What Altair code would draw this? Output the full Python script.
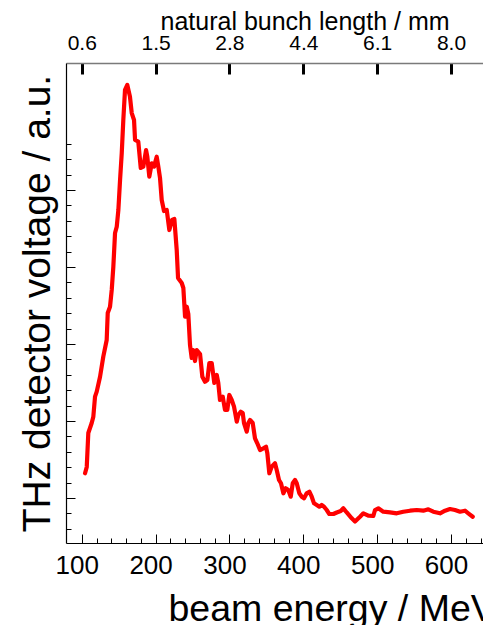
import altair as alt
import pandas as pd

# ---- data ----
energy = [104.5, 106.8, 108.9, 113.5, 115.7, 118.0, 120.3, 124.8, 129.2, 133.8,
          135.2, 138.3, 140.6, 142.8, 145.1, 147.4, 149.6, 151.9, 154.2, 156.3,
          158.6, 161.7, 165.3, 167.7, 170.8, 172.2, 176.6, 179.9, 183.4, 187.1,
          188.8, 191.5, 194.8, 197.9, 201.5, 203.7, 206.0, 208.3, 211.4, 215.1,
          218.6, 222.3, 225.4, 228.6, 230.4, 235.4, 237.6, 239.9, 242.2, 244.3,
          246.6, 248.9, 250.7, 253.4, 255.7, 260.2, 263.3, 266.9, 270.1, 272.8,
          276.0, 279.5, 282.8, 284.9, 287.2, 290.9, 294.0, 297.1, 299.8, 303.1,
          306.2, 309.9, 312.0, 315.3, 318.0, 319.7, 323.4, 325.6, 327.9, 331.5,
          334.6, 337.7, 341.4, 345.9, 349.5, 351.3, 354.0, 357.2, 361.7, 364.0,
          367.1, 369.8, 373.0, 376.2, 379.7, 383.0, 385.7, 388.8, 391.1, 394.6,
          397.9, 401.0, 404.6, 408.2, 411.4, 414.5, 418.2, 421.7, 424.9, 428.1,
          431.7, 435.2, 440.7, 445.3, 450.7, 454.2, 458.8, 465.6, 470.0, 476.8,
          481.3, 488.0, 494.8, 497.1, 501.6, 508.3, 517.4, 526.5, 535.4, 544.5,
          553.6, 562.5, 569.3, 576.0, 585.1, 591.9, 598.6, 605.4, 612.2, 618.9,
          623.4, 629.4]
voltage = [1.321, 1.403, 1.844, 1.974, 2.056, 2.316, 2.381, 2.575, 2.835, 3.052,
           3.403, 3.484, 3.701, 4.004, 4.442, 4.523, 4.740, 5.130, 5.481, 5.909,
           6.299, 6.364, 6.212, 5.999, 5.909, 5.649, 5.627, 5.286, 5.303, 5.519,
           5.432, 5.173, 5.347, 5.303, 5.432, 5.303, 5.156, 4.870, 4.727, 4.740,
           4.480, 4.610, 4.623, 4.221, 3.857, 3.792, 3.727, 3.354, 3.484, 3.390,
           2.987, 2.818, 2.922, 2.779, 2.922, 2.870, 2.575, 2.510, 2.532, 2.753,
           2.753, 2.494, 2.597, 2.494, 2.273, 2.316, 2.143, 2.143, 2.338, 2.273,
           2.186, 1.991, 2.078, 2.121, 2.104, 1.974, 1.861, 1.974, 2.013, 1.974,
           1.775, 1.710, 1.623, 1.645, 1.666, 1.581, 1.321, 1.406, 1.451, 1.364,
           1.234, 1.191, 1.061, 1.126, 1.104, 1.017, 1.191, 1.234, 1.191, 1.061,
           1.017, 0.996, 1.061, 1.082, 1.017, 0.931, 0.909, 0.887, 0.909, 0.887,
           0.844, 0.792, 0.792, 0.812, 0.831, 0.866, 0.812, 0.736, 0.695, 0.757,
           0.801, 0.770, 0.766, 0.844, 0.866, 0.822, 0.814, 0.801, 0.822, 0.835,
           0.844, 0.835, 0.853, 0.822, 0.801, 0.835, 0.857, 0.844, 0.822, 0.835,
           0.801, 0.757]

x_domain = [78.7, 643.3]
y_domain = [0.4156, 6.649]

bottom_major = [100, 200, 300, 400, 500, 600]
bottom_minor = [120, 140, 160, 180, 220, 240, 260, 280, 320, 340, 360, 380,
                420, 440, 460, 480, 520, 540, 560, 580, 620, 640]
left_major = [1, 2, 3, 4, 5]
left_minor = [0.6, 0.8, 1.2, 1.4, 1.6, 1.8, 2.2, 2.4, 2.6, 2.8, 3.2, 3.4, 3.6,
              3.8, 4.2, 4.4, 4.6, 4.8, 5.2, 5.4, 5.6]
top_tick_energy = [100, 200, 300, 400, 500, 600]
top_tick_labels = ["0.6", "1.5", "2.8", "4.4", "6.1", "8.0"]

x_title = "beam energy / MeV"
y_title = "THz detector voltage / a.u."
top_title = "natural bunch length / mm"

df = pd.DataFrame({"energy": energy, "voltage": voltage})

FONT = "Liberation Sans"
xs = alt.Scale(domain=x_domain, nice=False, zero=False)
ys = alt.Scale(domain=y_domain, nice=False, zero=False)

top_expr = " : ".join(
    f"datum.value == {e} ? '{l}'" for e, l in zip(top_tick_energy, top_tick_labels)
) + " : ''"

base = alt.Chart(df)


def layer(xaxis, yaxis, visible=False):
    m = base.mark_line(color="#ff0000", strokeWidth=4.2, strokeJoin="round",
                       strokeCap="round", clip=True, opacity=1 if visible else 0)
    return m.encode(
        x=alt.X("energy:Q", scale=xs, axis=xaxis),
        y=alt.Y("voltage:Q", scale=ys, axis=yaxis),
    )


common = dict(grid=False, tickColor="black", domain=False)

# L1: visible curve, major bottom ticks with labels, major left ticks
l1 = layer(
    alt.Axis(orient="bottom", values=bottom_major, offset=-9, tickSize=9,
             tickWidth=1, labelFontSize=26, labelPadding=30,
             labelBaseline="alphabetic", labelOffset=-5, labelFlush=False,
             labelOverlap=False, format="d", title=None, **common),
    alt.Axis(orient="left", values=left_major, offset=-9, tickSize=9,
             tickWidth=1, labels=False, title=None, **common),
    visible=True,
)
# L2: minor ticks
l2 = layer(
    alt.Axis(orient="bottom", values=bottom_minor, offset=-5, tickSize=5,
             tickWidth=1, labels=False, title=None, **common),
    alt.Axis(orient="left", values=left_minor, offset=-5, tickSize=5,
             tickWidth=1, labels=False, title=None, **common),
)
# L3: frame lines bottom/left with titles
l3 = layer(
    alt.Axis(orient="bottom", grid=False, domain=True, domainColor="black",
             domainWidth=1.2, ticks=False, labels=False, title=x_title,
             titleFontSize=37.5, titleX=102, titleY=77, titleAlign="left",
             titleAnchor="start", titleBaseline="alphabetic"),
    alt.Axis(orient="left", grid=False, domain=True, domainColor="black",
             domainWidth=1.2, ticks=False, labels=False, title=y_title,
             titleFontSize=39, titleX=-17, titleY=240, titleAngle=270,
             titleAlign="center", titleBaseline="alphabetic"),
)
# L4: top thick ticks with bunch length labels
l4 = layer(
    alt.Axis(orient="top", values=top_tick_energy, offset=-11, tickSize=11,
             tickWidth=3, labelExpr=top_expr, labelFontSize=21,
             labelPadding=14, labelBaseline="alphabetic", labelFlush=False,
             labelOverlap=False, title=None, **common),
    None,
)
# L5: top frame line with title
l5 = layer(
    alt.Axis(orient="top", grid=False, domain=True, domainColor="#7a7a7a",
             domainWidth=1.5, ticks=False, labels=False, title=top_title,
             titleFontSize=25, titleX=94, titleY=-34, titleAlign="left",
             titleAnchor="start", titleBaseline="alphabetic"),
    None,
)

chart = (
    alt.layer(l1, l2, l3, l4, l5)
    .resolve_axis(x="independent", y="independent")
    .properties(
        width=417, height=480,
        autosize=alt.AutoSizeParams(type="none"),
        padding={"left": 66, "top": 63, "right": 0, "bottom": 82},
        background="white",
    )
    .configure_view(strokeWidth=0)
    .configure_axis(labelFont=FONT, titleFont=FONT, labelColor="black",
                    titleColor="black", titleFontWeight="normal")
)

chart.save("out.html", embed_options={"renderer": "svg", "actions": False})
